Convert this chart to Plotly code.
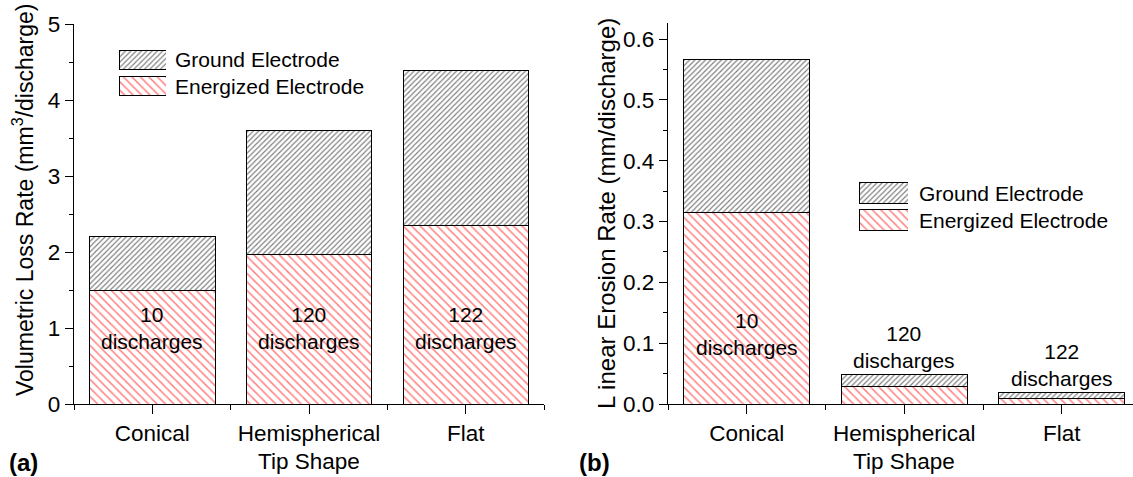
import plotly.graph_objects as go

W, H = 1133, 477

# ---------------- data ----------------
shapes_cat = ["Conical", "Hemispherical", "Flat"]
cat_pos = [0, 1, 2]
discharges = ["10", "120", "122"]

# (a) Volumetric loss rate (mm^3/discharge)
vol_energized = [1.50, 1.97, 2.35]
vol_ground = [0.70, 1.63, 2.04]

# (b) Linear erosion rate (mm/discharge)
lin_energized = [0.315, 0.029, 0.009]
lin_ground = [0.252, 0.020, 0.010]

legend_names = ["Ground Electrode", "Energized Electrode"]

# ---------------- style ----------------
FONT = "Arial, Liberation Sans, Helvetica, sans-serif"
FS = 21
FT = 22.5
RED = "#ff0000"
DARK = "#000000"

pat_ground = dict(shape="/", fgcolor=DARK, bgcolor="white", size=3.75, solidity=0.32)
pat_energ = dict(shape="\\", fgcolor=RED, bgcolor="white", size=6.0, solidity=0.25)
bar_line = dict(color="black", width=1)


def px_x(p):
    return p / W


def px_y(p):
    return 1 - p / H


fig = go.Figure()

# ---- panel (a) ----
fig.add_trace(go.Bar(x=cat_pos, y=vol_energized, width=0.8, xaxis="x", yaxis="y",
                     marker=dict(color="white", pattern=pat_energ, line=bar_line),
                     name=legend_names[1], showlegend=False))
fig.add_trace(go.Bar(x=cat_pos, y=vol_ground, width=0.8, xaxis="x", yaxis="y",
                     marker=dict(color="white", pattern=pat_ground, line=bar_line),
                     name=legend_names[0], showlegend=False))

# ---- panel (b) ----
fig.add_trace(go.Bar(x=cat_pos, y=lin_energized, width=0.8, xaxis="x2", yaxis="y2",
                     marker=dict(color="white", pattern=pat_energ, line=bar_line),
                     name=legend_names[1], showlegend=False))
fig.add_trace(go.Bar(x=cat_pos, y=lin_ground, width=0.8, xaxis="x2", yaxis="y2",
                     marker=dict(color="white", pattern=pat_ground, line=bar_line),
                     name=legend_names[0], showlegend=False))

# ---- legend swatches (hidden axes) ----
for ax_x, ax_y, wbar in (("x3", "y3", 0.70), ("x4", "y4", 0.76)):
    fig.add_trace(go.Bar(y=[1], x=[1], orientation="h", width=wbar, xaxis=ax_x, yaxis=ax_y,
                         marker=dict(color="white", pattern=pat_ground, line=bar_line),
                         showlegend=False, hoverinfo="skip"))
    fig.add_trace(go.Bar(y=[0], x=[1], orientation="h", width=wbar, xaxis=ax_x, yaxis=ax_y,
                         marker=dict(color="white", pattern=pat_energ, line=bar_line),
                         showlegend=False, hoverinfo="skip"))

axis_common = dict(showline=True, linecolor="black", linewidth=1.3, showgrid=False,
                   zeroline=False, ticks="outside", tickcolor="black", tickwidth=1.3,
                   automargin=False,
                   tickfont=dict(family=FONT, size=FT, color="black"))

xa = dict(axis_common, tickmode="array", tickvals=cat_pos, ticktext=shapes_cat, ticklen=9,
          minor=dict(tickmode="array", tickvals=[-0.5, 0.5, 1.5, 2.5], ticks="outside",
                     ticklen=5, tickcolor="black", tickwidth=1.3))

hidden = dict(visible=False, automargin=False, fixedrange=True)

fig.update_layout(
    width=W, height=H,
    margin=dict(l=0, r=0, t=0, b=0, pad=0),
    paper_bgcolor="white", plot_bgcolor="white",
    barmode="stack",
    font=dict(family=FONT, size=FS, color="black"),
    xaxis=dict(xa, domain=[px_x(74), px_x(544)], range=[-0.5, 2.5], anchor="y"),
    yaxis=dict(axis_common, domain=[px_y(404), px_y(24)], range=[0, 5], dtick=1, tick0=0,
               ticklen=8, anchor="x",
               minor=dict(dtick=0.5, tick0=0, ticks="outside", ticklen=4,
                          tickcolor="black", tickwidth=1.3)),
    xaxis2=dict(xa, domain=[px_x(668), 1.0], range=[-0.5, (W - 668) / 157.5 - 0.5],
                anchor="y2"),
    yaxis2=dict(axis_common, domain=[px_y(404), px_y(23.3)], range=[0, 0.626], dtick=0.1, tick0=0,
                tickformat=".1f", ticklen=8, anchor="x2",
                minor=dict(dtick=0.05, tick0=0, ticks="outside", ticklen=4,
                           tickcolor="black", tickwidth=1.3)),
    xaxis3=dict(hidden, domain=[px_x(119), px_x(166)], range=[0, 1], anchor="y3"),
    yaxis3=dict(hidden, domain=[px_y(99), px_y(47)], range=[-0.5, 1.5], anchor="x3"),
    xaxis4=dict(hidden, domain=[px_x(859), px_x(908)], range=[0, 1], anchor="y4"),
    yaxis4=dict(hidden, domain=[px_y(233.5), px_y(179.5)], range=[-0.5, 1.5], anchor="x4"),
)

ann = []
txt = dict(family=FONT, size=FS, color="black")

# legend texts
for (xp, y1, y2) in ((173, 60, 86), (917, 193, 220)):
    ann.append(dict(x=px_x(xp), y=px_y(y1), xref="paper", yref="paper", text=legend_names[0],
                    showarrow=False, xanchor="left", yanchor="middle", font=txt))
    ann.append(dict(x=px_x(xp), y=px_y(y2), xref="paper", yref="paper", text=legend_names[1],
                    showarrow=False, xanchor="left", yanchor="middle", font=txt))

# discharge labels (a): inside bars
for i, d in enumerate(discharges):
    ann.append(dict(x=cat_pos[i], y=1.0, xref="x", yref="y", text=f"{d}<br>discharges",
                    showarrow=False, xanchor="center", yanchor="middle", font=txt))

# discharge labels (b)
ann.append(dict(x=cat_pos[0], y=0.115, xref="x2", yref="y2", text=f"{discharges[0]}<br>discharges",
                showarrow=False, xanchor="center", yanchor="middle", font=txt))
for i in (1, 2):
    tot = lin_energized[i] + lin_ground[i]
    ann.append(dict(x=cat_pos[i], y=tot, xref="x2", yref="y2", text=f"{discharges[i]}<br>discharges",
                    showarrow=False, xanchor="center", yanchor="bottom", font=txt))

# axis titles
ann.append(dict(x=px_x(23), y=px_y(200), xref="paper", yref="paper",
                text="Volumetric Loss Rate (mm<sup>3</sup>/discharge)", textangle=-90,
                showarrow=False, xanchor="center", yanchor="middle",
                font=dict(family=FONT, size=23, color="black")))
ann.append(dict(x=px_x(606), y=px_y(214), xref="paper", yref="paper",
                text="L inear Erosion Rate (mm/discharge)", textangle=-90,
                showarrow=False, xanchor="center", yanchor="middle",
                font=dict(family=FONT, size=24, color="black")))
ann.append(dict(x=1, y=px_y(461), xref="x", yref="paper", text="Tip Shape",
                showarrow=False, xanchor="center", yanchor="middle", font=dict(txt, size=FT)))
ann.append(dict(x=1, y=px_y(461), xref="x2", yref="paper", text="Tip Shape",
                showarrow=False, xanchor="center", yanchor="middle", font=dict(txt, size=FT)))

# panel labels
lab = dict(family=FONT, size=24, color="black")
ann.append(dict(x=px_x(7), y=px_y(462), xref="paper", yref="paper", text="<b>(a)</b>",
                showarrow=False, xanchor="left", yanchor="middle", font=lab))
ann.append(dict(x=px_x(577), y=px_y(462), xref="paper", yref="paper", text="<b>(b)</b>",
                showarrow=False, xanchor="left", yanchor="middle", font=lab))

fig.update_layout(annotations=ann)

fig.write_html("out.html")
